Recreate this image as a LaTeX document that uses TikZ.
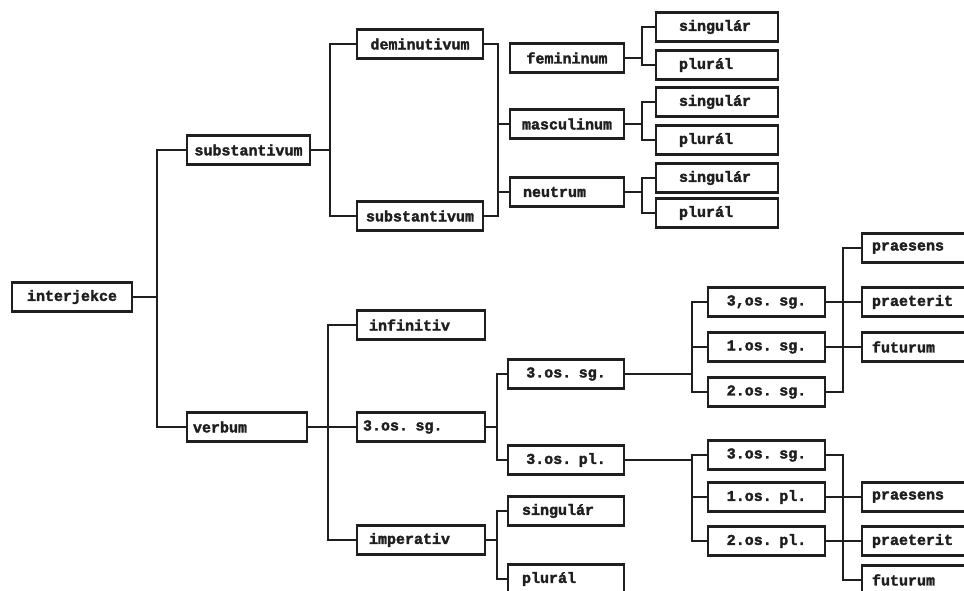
\documentclass[tikz,border=0pt]{standalone}
\usepackage{fontspec}
\newfontfamily\tw[FakeBold=2.2]{Liberation Mono Bold}
\definecolor{ink}{gray}{0.12}
\tikzset{
  bx/.style={draw=ink, line width=2.4pt, minimum height=29pt, inner ysep=0pt, outer sep=0pt,
    font=\tw\fontsize{15}{18}\selectfont, text=ink},
  ln/.style={draw=ink, line width=1.3pt}
}
% name, x1, x2, yc, pad, align, text
\newcommand\bx[7]{%
  \pgfmathsetmacro\bxtw{#3-#2-2*#5}%
  \node[bx, anchor=west, text width=\bxtw pt, inner xsep=#5pt, align=#6] (#1) at (#2,#4) {\mbox{#7}};%
}
\begin{document}
\begin{tikzpicture}[x=1pt,y=-1pt]
\useasboundingbox (0,0) rectangle (964,590);
\clip (0,0) rectangle (964,590);
\fill[white] (0,0) rectangle (964,590);

% level 0-1
\bx{interj}{12}{132}{297}{4}{center}{interjekce}
\bx{subst}{187}{310}{150}{4}{center}{substantivum}
\bx{verbum}{187}{307}{427}{6}{left}{verbum}

% substantive branch
\bx{demin}{357}{483}{44}{4}{center}{deminutivum}
\bx{subst2}{357}{483}{216}{4}{center}{substantivum}
\bx{fem}{510}{624}{58}{4}{center}{femininum}
\bx{masc}{510}{624}{124}{4}{center}{masculinum}
\bx{neut}{510}{624}{192}{13}{left}{neutrum}
\bx{sgA}{656}{778}{27}{23}{left}{singulár}
\bx{plA}{656}{778}{65}{23}{left}{plurál}
\bx{sgB}{656}{778}{102}{23}{left}{singulár}
\bx{plB}{656}{778}{140}{23}{left}{plurál}
\bx{sgC}{656}{778}{178}{23}{left}{singulár}
\bx{plC}{656}{778}{213}{23}{left}{plurál}

% verb branch
\bx{inf}{357}{485}{325}{12}{left}{infinitiv}
\bx{vsg}{357}{485}{427}{6}{left}{3.os. sg.}
\bx{imp}{357}{485}{540}{12}{left}{imperativ}
\bx{vtsg}{508}{624}{374}{4}{center}{3.os. sg.}
\bx{vtpl}{508}{624}{460}{4}{center}{3.os. pl.}
\bx{isg}{508}{624}{511}{14}{left}{singulár}
\bx{ipl}{508}{624}{579}{14}{left}{plurál}

\bx{aT}{708}{825}{302}{4}{center}{3,os. sg.}
\bx{aO}{708}{825}{347}{4}{center}{1.os. sg.}
\bx{aW}{708}{825}{392}{4}{center}{2.os. sg.}
\bx{bT}{708}{825}{455}{4}{center}{3.os. sg.}
\bx{bO}{708}{825}{497}{4}{center}{1.os. pl.}
\bx{bW}{708}{825}{541}{4}{center}{2.os. pl.}

\bx{prA}{862}{1010}{248}{10}{left}{praesens}
\bx{ptA}{862}{1010}{302}{10}{left}{praeterit}
\bx{fuA}{862}{1010}{347}{10}{left}{futurum}
\bx{prB}{862}{1010}{497}{10}{left}{praesens}
\bx{ptB}{862}{1010}{541}{10}{left}{praeterit}
\bx{fuB}{862}{1010}{580}{10}{left}{futurum}

% junctions
\coordinate (j1) at (157,297);
\coordinate (j2) at (330,150);
\coordinate (j3) at (498,124);
\coordinate (j4) at (642,58);
\coordinate (j5) at (642,124);
\coordinate (j6) at (642,192);
\coordinate (j7) at (328,427);
\coordinate (j8) at (497,427);
\coordinate (j9) at (497,540);
\coordinate (j10) at (692,374);
\coordinate (j11) at (843,302);
\coordinate (j12) at (692,460);
\coordinate (j13) at (843,497);

% connectors
\draw[ln] (interj.east) -- (j1);
\draw[ln] (subst.west) -| (j1) |- (verbum.west);

\draw[ln] (subst.east) -- (j2);
\draw[ln] (demin.west) -| (j2) |- (subst2.west);

\draw[ln] (demin.east) -| (j3) |- (subst2.east);
\draw[ln] (j3) -- (masc.west);
\draw[ln] (j3 |- neut.west) -- (neut.west);

\draw[ln] (fem.east) -- (j4);
\draw[ln] (sgA.west) -| (j4) |- (plA.west);
\draw[ln] (masc.east) -- (j5);
\draw[ln] (sgB.west) -| (j5) |- (plB.west);
\draw[ln] (neut.east) -- (j6);
\draw[ln] (sgC.west) -| (j6) |- (plC.west);

\draw[ln] (verbum.east) -- (j7);
\draw[ln] (inf.west) -| (j7) |- (imp.west);
\draw[ln] (j7) -- (vsg.west);

\draw[ln] (vsg.east) -- (j8);
\draw[ln] (vtsg.west) -| (j8) |- (vtpl.west);
\draw[ln] (imp.east) -- (j9);
\draw[ln] (isg.west) -| (j9) |- (ipl.west);

\draw[ln] (vtsg.east) -- (j10);
\draw[ln] (aT.west) -| (j10) |- (aW.west);
\draw[ln] (j10 |- aO.west) -- (aO.west);

\draw[ln] (prA.west) -| (j11) |- (aW.east);
\draw[ln] (aT.east) -- (ptA.west);
\draw[ln] (aO.east) -- (fuA.west);

\draw[ln] (vtpl.east) -- (j12);
\draw[ln] (bT.west) -| (j12) |- (bW.west);
\draw[ln] (j12 |- bO.west) -- (bO.west);

\draw[ln] (bT.east) -| (j13) |- (fuB.west);
\draw[ln] (bO.east) -- (prB.west);
\draw[ln] (bW.east) -- (ptB.west);
\end{tikzpicture}
\end{document}
